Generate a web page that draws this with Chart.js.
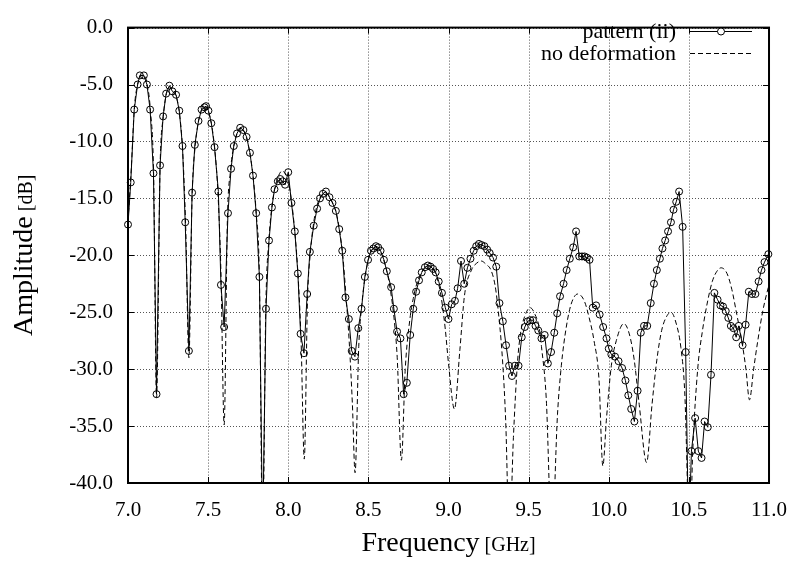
<!DOCTYPE html>
<html>
<head>
<meta charset="utf-8">
<script src="https://cdn.jsdelivr.net/npm/chart.js@4.4.1/dist/chart.umd.min.js"></script>
<style>
  html, body { margin: 0; padding: 0; background: #fff; }
  #chart { display: block; }
</style>
</head>
<body>
<canvas id="chart" width="802" height="563"></canvas>
<script>
// DATA
const freqPattern = [
  7.000, 7.017, 7.039, 7.060, 7.074, 7.099, 7.118, 7.138, 7.159, 7.178,
  7.200, 7.219, 7.238, 7.258, 7.277, 7.300, 7.320, 7.340, 7.357, 7.380,
  7.400, 7.417, 7.440, 7.459, 7.477, 7.487, 7.502, 7.520, 7.540, 7.564,
  7.580, 7.600, 7.624, 7.643, 7.660, 7.680, 7.700, 7.720, 7.740, 7.761,
  7.780, 7.800, 7.820, 7.840, 7.861, 7.880, 7.898, 7.914, 7.935, 7.950,
  7.965, 7.980, 8.000, 8.020, 8.041, 8.060, 8.077, 8.098, 8.118, 8.135,
  8.159, 8.180, 8.198, 8.216, 8.235, 8.257, 8.276, 8.297, 8.318, 8.337,
  8.357, 8.378, 8.396, 8.416, 8.437, 8.457, 8.478, 8.498, 8.516, 8.531,
  8.547, 8.561, 8.576, 8.597, 8.615, 8.642, 8.659, 8.679, 8.700, 8.720,
  8.740, 8.761, 8.780, 8.798, 8.816, 8.833, 8.853, 8.871, 8.888, 8.904,
  8.920, 8.939, 8.959, 8.980, 9.000, 9.020, 9.040, 9.057, 9.078, 9.098,
  9.118, 9.137, 9.157, 9.173, 9.190, 9.206, 9.224, 9.241, 9.257, 9.278,
  9.298, 9.318, 9.339, 9.359, 9.378, 9.396, 9.414, 9.437, 9.457, 9.476,
  9.494, 9.510, 9.527, 9.543, 9.560, 9.580, 9.600, 9.620, 9.640, 9.660,
  9.678, 9.696, 9.718, 9.737, 9.757, 9.778, 9.796, 9.816, 9.833, 9.849,
  9.863, 9.880, 9.900, 9.921, 9.943, 9.965, 9.986, 10.000, 10.016, 10.039,
  10.061, 10.083, 10.104, 10.122, 10.140, 10.160, 10.180, 10.200, 10.220, 10.240,
  10.262, 10.282, 10.300, 10.319, 10.335, 10.352, 10.370, 10.388, 10.404, 10.421,
  10.439, 10.461, 10.480, 10.498, 10.516, 10.539, 10.559, 10.579, 10.598, 10.618,
  10.638, 10.659, 10.679, 10.697, 10.713, 10.730, 10.746, 10.762, 10.778, 10.795,
  10.811, 10.835, 10.854, 10.874, 10.894, 10.915, 10.935, 10.953, 10.972, 10.996
];
const ampPattern = [
  -17.3, -13.6, -7.2, -5.0, -4.2, -4.2, -5.0, -7.2, -12.8, -32.2,
  -12.1, -7.8, -5.8, -5.1, -5.6, -5.9, -7.3, -10.4, -17.1, -28.4,
  -14.5, -10.3, -8.2, -7.2, -7.0, -6.9, -7.3, -8.4, -10.5, -14.4,
  -22.6, -26.3, -16.3, -12.4, -10.4, -9.3, -8.8, -9.0, -9.6, -11.0,
  -13.0, -16.3, -21.9, -45.0, -24.7, -18.7, -15.8, -14.2, -13.5, -13.3,
  -13.5, -13.8, -12.7, -15.4, -17.9, -21.6, -26.9, -28.6, -23.4, -19.7,
  -17.4, -15.9, -15.0, -14.6, -14.4, -14.9, -15.4, -16.1, -17.7, -19.6,
  -23.7, -25.6, -28.4, -28.9, -26.4, -24.7, -21.9, -20.4, -19.6, -19.4,
  -19.2, -19.3, -19.6, -20.4, -21.4, -22.8, -24.7, -26.7, -27.3, -32.2,
  -31.2, -27.0, -24.7, -23.2, -22.2, -21.5, -21.05, -20.9, -21.0, -21.2,
  -21.5, -22.3, -23.3, -24.6, -25.6, -24.3, -24.0, -22.9, -20.5, -22.5,
  -21.1, -20.3, -19.6, -19.2, -19.0, -19.1, -19.2, -19.5, -19.8, -20.2,
  -21.0, -24.2, -25.8, -27.9, -29.7, -30.6, -29.7, -29.7, -27.2, -26.3,
  -25.8, -25.7, -25.7, -26.2, -26.6, -27.3, -27.0, -29.5, -28.5, -26.8,
  -25.1, -23.6, -22.5, -21.3, -20.3, -19.3, -17.9, -20.1, -20.1, -20.1,
  -20.2, -20.4, -24.6, -24.4, -25.2, -26.3, -27.3, -28.2, -28.7, -28.9,
  -29.3, -29.9, -31.0, -32.3, -33.5, -34.6, -31.9, -26.8, -26.2, -26.2,
  -24.2, -22.5, -21.3, -20.3, -19.4, -18.7, -17.9, -17.1, -16.0, -15.3,
  -14.4, -17.5, -28.5, -45.0, -37.2, -34.3, -37.2, -37.8, -34.6, -35.1,
  -30.5, -23.3, -23.9, -24.4, -24.5, -24.9, -25.5, -26.2, -26.4, -27.2,
  -26.2, -27.9, -26.1, -23.2, -23.4, -23.4, -22.3, -21.3, -20.6, -19.9
];
const freqFlat = [
  7.000, 7.020, 7.040, 7.060, 7.080, 7.100, 7.120, 7.140, 7.160, 7.178,
  7.200, 7.220, 7.240, 7.260, 7.280, 7.300, 7.320, 7.340, 7.360, 7.380,
  7.400, 7.420, 7.440, 7.460, 7.480, 7.500, 7.520, 7.540, 7.560, 7.580,
  7.600, 7.620, 7.640, 7.660, 7.680, 7.700, 7.720, 7.740, 7.760, 7.780,
  7.800, 7.820, 7.840, 7.860, 7.880, 7.900, 7.920, 7.940, 7.960, 7.980,
  8.000, 8.020, 8.040, 8.060, 8.080, 8.100, 8.120, 8.140, 8.160, 8.180,
  8.200, 8.220, 8.240, 8.260, 8.280, 8.300, 8.320, 8.340, 8.360, 8.380,
  8.400, 8.417, 8.440, 8.460, 8.480, 8.500, 8.520, 8.540, 8.560, 8.580,
  8.600, 8.620, 8.640, 8.660, 8.680, 8.706, 8.730, 8.760, 8.780, 8.800,
  8.820, 8.840, 8.860, 8.880, 8.900, 8.920, 8.940, 8.960, 8.980, 9.000,
  9.037, 9.071, 9.100, 9.143, 9.175, 9.204, 9.235, 9.265, 9.290, 9.306,
  9.337, 9.357, 9.380, 9.405, 9.430, 9.449, 9.480, 9.510, 9.540, 9.565,
  9.580, 9.610, 9.645, 9.680, 9.704, 9.735, 9.765, 9.806, 9.847, 9.878,
  9.908, 9.939, 9.963, 9.986, 10.016, 10.047, 10.094, 10.128, 10.159, 10.190,
  10.236, 10.270, 10.300, 10.330, 10.360, 10.388, 10.423, 10.450, 10.474, 10.506,
  10.524, 10.555, 10.585, 10.616, 10.646, 10.675, 10.701, 10.738, 10.768, 10.799,
  10.830, 10.856, 10.878, 10.904, 10.930, 10.961, 10.996, 11.000
];
const ampFlat = [
  -17.0, -12.5, -7.0, -5.0, -4.2, -4.2, -5.0, -7.3, -13.0, -32.5,
  -12.3, -7.8, -5.8, -5.2, -5.4, -6.0, -7.4, -10.6, -17.5, -29.0,
  -14.8, -10.3, -8.2, -7.2, -7.0, -7.3, -8.4, -10.5, -14.2, -21.5,
  -34.9, -17.0, -12.5, -10.4, -9.3, -8.8, -9.0, -9.7, -11.0, -13.0,
  -16.3, -22.0, -45.0, -24.5, -18.5, -15.5, -13.9, -13.0, -12.6, -12.8,
  -13.5, -15.2, -17.8, -21.5, -27.5, -37.9, -24.0, -19.5, -17.0, -15.6,
  -14.9, -14.6, -14.6, -14.9, -15.5, -16.3, -17.8, -20.0, -23.5, -27.5,
  -33.0, -39.1, -28.0, -24.2, -21.8, -20.4, -19.6, -19.3, -19.4, -19.8,
  -20.6, -21.7, -23.3, -25.5, -29.0, -38.0, -30.0, -25.5, -23.8, -22.6,
  -21.8, -21.3, -21.0, -20.9, -21.1, -21.6, -22.6, -24.2, -26.5, -29.5,
  -33.5, -28.3, -23.5, -21.3, -20.7, -20.5, -20.8, -21.3, -22.6, -24.3,
  -29.2, -34.6, -45.0, -36.0, -29.5, -26.9, -25.2, -24.6, -25.2, -26.3,
  -28.0, -32.6, -45.0, -34.0, -29.7, -26.3, -24.3, -23.4, -24.0, -25.5,
  -27.5, -30.9, -38.5, -34.3, -29.7, -27.5, -26.0, -26.9, -29.2, -33.1,
  -38.2, -33.1, -29.2, -26.6, -25.4, -25.0, -26.1, -28.1, -32.0, -45.0,
  -37.2, -30.0, -26.6, -24.1, -22.3, -21.4, -21.1, -21.6, -23.0, -25.2,
  -27.5, -30.0, -32.7, -30.0, -27.5, -24.9, -22.8, -22.6
];
const xTickValues = [7.0, 7.5, 8.0, 8.5, 9.0, 9.5, 10.0, 10.5, 11.0];
const yTickValues = [0, -5, -10, -15, -20, -25, -30, -35, -40];
const seriesNames = ['pattern (ii)', 'no deformation'];
const xTitle = [['Frequency', 28], [' [GHz]', 20]];
const yTitle = [['Amplitude', 28], [' [dB]', 20]];

const FONT = '"Liberation Serif", "Times New Roman", serif';

// draw a title made of parts with different sizes, centred on (x, y)
function drawParts(ctx, parts, x, y) {
  let total = 0;
  const widths = parts.map(([t, s]) => {
    ctx.font = s + 'px ' + FONT;
    const w = ctx.measureText(t).width;
    total += w;
    return w;
  });
  let cx = x - total / 2;
  parts.forEach(([t, s], i) => {
    ctx.font = s + 'px ' + FONT;
    ctx.fillText(t, cx, y);
    cx += widths[i];
  });
}

// gnuplot look: dotted grid, boxed frame, inward ticks, titles, key
const gnuplotLook = {
  id: 'gnuplotLook',
  beforeDatasetsDraw(chart) {
    const { ctx, chartArea: a, scales: { x, y } } = chart;
    ctx.save();
    ctx.strokeStyle = '#555';
    ctx.lineWidth = 1;
    ctx.setLineDash([1, 2]);
    xTickValues.forEach(v => {
      const px = Math.round(x.getPixelForValue(v)) + 0.5;
      ctx.beginPath(); ctx.moveTo(px, a.top); ctx.lineTo(px, a.bottom); ctx.stroke();
    });
    yTickValues.forEach(v => {
      const py = Math.round(y.getPixelForValue(v)) + 0.5;
      ctx.beginPath(); ctx.moveTo(a.left, py); ctx.lineTo(a.right, py); ctx.stroke();
    });
    ctx.restore();
  },
  afterDatasetsDraw(chart) {
    const { ctx, chartArea: a, scales: { x, y } } = chart;
    ctx.save();
    ctx.strokeStyle = '#000';
    ctx.lineWidth = 1;
    const t = 6;
    xTickValues.forEach(v => {
      const px = Math.round(x.getPixelForValue(v)) + 0.5;
      ctx.beginPath();
      ctx.moveTo(px, a.bottom); ctx.lineTo(px, a.bottom - t);
      ctx.moveTo(px, a.top); ctx.lineTo(px, a.top + t);
      ctx.stroke();
    });
    yTickValues.forEach(v => {
      const py = Math.round(y.getPixelForValue(v)) + 0.5;
      ctx.beginPath();
      ctx.moveTo(a.left, py); ctx.lineTo(a.left + t, py);
      ctx.moveTo(a.right, py); ctx.lineTo(a.right - t, py);
      ctx.stroke();
    });
    ctx.lineWidth = 2;
    ctx.strokeRect(a.left, a.top, a.right - a.left, a.bottom - a.top);
    ctx.restore();
  },
  afterDraw(chart) {
    const { ctx, chartArea: a } = chart;
    ctx.save();
    ctx.fillStyle = '#000';
    ctx.textBaseline = 'alphabetic';
    ctx.textAlign = 'left';
    drawParts(ctx, xTitle, (a.left + a.right) / 2, 551);
    ctx.translate(32, (a.top + a.bottom) / 2);
    ctx.rotate(-Math.PI / 2);
    drawParts(ctx, yTitle, 0, 0);
    ctx.restore();

    // key
    ctx.save();
    ctx.font = '22px ' + FONT;
    ctx.fillStyle = '#000';
    ctx.strokeStyle = '#000';
    ctx.lineWidth = 1;
    ctx.textAlign = 'right';
    ctx.textBaseline = 'alphabetic';
    const tx = 676, x0 = 690, x1 = 752;
    ctx.fillText(seriesNames[0], tx, 38);
    ctx.fillText(seriesNames[1], tx, 60);
    ctx.beginPath(); ctx.moveTo(x0, 31.5); ctx.lineTo(x1, 31.5); ctx.stroke();
    ctx.beginPath(); ctx.arc((x0 + x1) / 2, 31.5, 3.5, 0, Math.PI * 2); ctx.fillStyle = '#fff'; ctx.fill(); ctx.stroke();
    ctx.setLineDash([5, 3]);
    ctx.beginPath(); ctx.moveTo(x0, 53.5); ctx.lineTo(x1, 53.5); ctx.stroke();
    ctx.restore();
  }
};

const tickFont = { family: FONT, size: 21 };

new Chart(document.getElementById('chart'), {
  type: 'line',
  data: {
    datasets: [
      {
        label: seriesNames[0],
        data: freqPattern.map((f, i) => ({ x: f, y: ampPattern[i] })),
        borderColor: '#000',
        borderWidth: 1,
        pointRadius: 3.5,
        pointBorderWidth: 1,
        pointBorderColor: '#000',
        pointBackgroundColor: 'rgba(0,0,0,0)',
        tension: 0,
        clip: { left: 5, right: 5, top: 5, bottom: 0 }
      },
      {
        label: seriesNames[1],
        data: freqFlat.map((f, i) => ({ x: f, y: ampFlat[i] })),
        borderColor: '#000',
        borderWidth: 1,
        borderDash: [5, 3],
        pointRadius: 0,
        cubicInterpolationMode: 'monotone',
        clip: 0
      }
    ]
  },
  options: {
    responsive: false,
    animation: false,
    devicePixelRatio: 1,
    layout: { padding: { left: 0, top: 13, right: 24, bottom: 0 } },
    plugins: { legend: { display: false }, tooltip: { enabled: false } },
    scales: {
      x: {
        type: 'linear',
        min: 7, max: 11,
        afterBuildTicks: s => { s.ticks = xTickValues.map(v => ({ value: v })); },
        afterFit: s => { s.height = 80; },
        grid: { display: false, drawTicks: false },
        border: { display: false },
        ticks: { font: tickFont, color: '#000', padding: 15, maxRotation: 0, autoSkip: false,
                 callback: v => Number(v).toFixed(1) }
      },
      y: {
        min: -40, max: 0,
        afterBuildTicks: s => { s.ticks = yTickValues.map(v => ({ value: v })); },
        afterFit: s => { s.width = 128; },
        grid: { display: false, drawTicks: false },
        border: { display: false },
        ticks: { font: tickFont, color: '#000', padding: 15, autoSkip: false,
                 callback: v => Number(v).toFixed(1) }
      }
    }
  },
  plugins: [gnuplotLook]
});
</script>
</body>
</html>
